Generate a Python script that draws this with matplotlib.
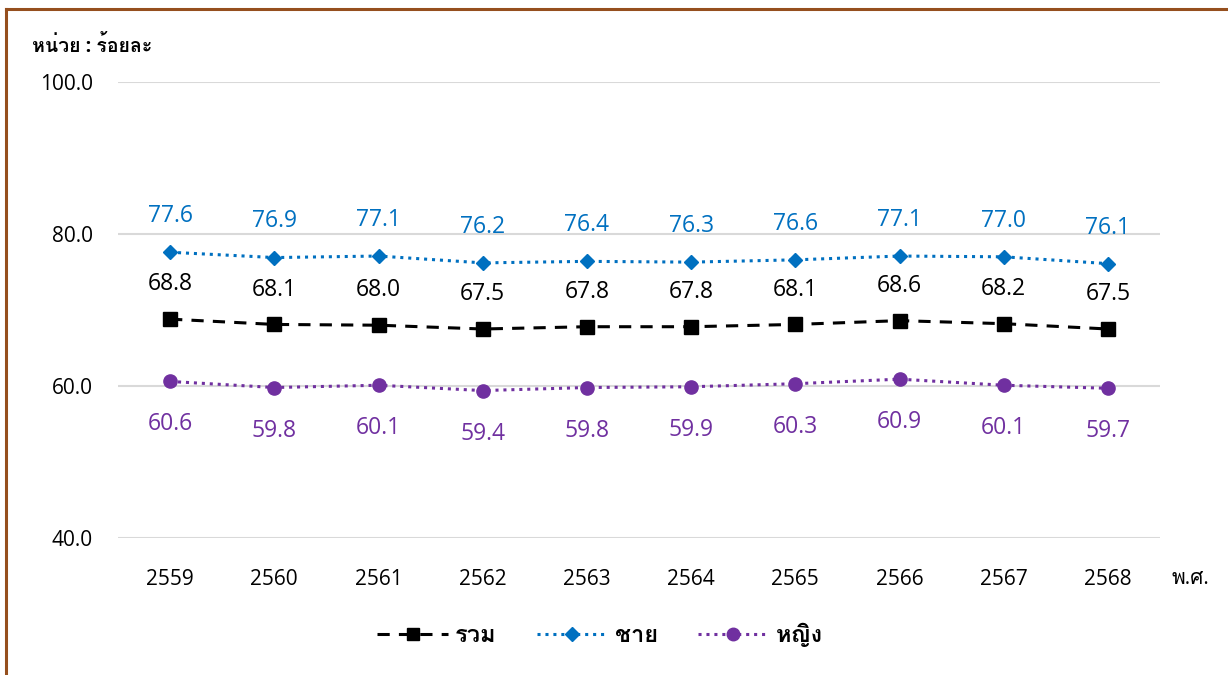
import matplotlib
matplotlib.use("Agg")
import matplotlib.pyplot as plt
from matplotlib import font_manager
from matplotlib.lines import Line2D

years = ["2559", "2560", "2561", "2562", "2563", "2564", "2565", "2566", "2567", "2568"]
total = [68.8, 68.1, 68.0, 67.5, 67.8, 67.8, 68.1, 68.6, 68.2, 67.5]
male = [77.6, 76.9, 77.1, 76.2, 76.4, 76.3, 76.6, 77.1, 77.0, 76.1]
female = [60.6, 59.8, 60.1, 59.4, 59.8, 59.9, 60.3, 60.9, 60.1, 59.7]
series_names = ["รวม", "ชาย", "หญิง"]
y_ticks = [40, 60, 80, 100]


def find_thai_font():
    try:
        from fontTools.ttLib import TTFont
    except ImportError:
        return None
    found = []
    for entry in font_manager.fontManager.ttflist:
        try:
            tt = TTFont(entry.fname, fontNumber=0, lazy=True)
            cmap = tt.getBestCmap()
            if cmap and 0x0E2B in cmap and 0x0E0D in cmap:
                found.append(entry.name)
        except Exception:
            continue
    return found[0] if found else None


thai = find_thai_font()
families = ["Open Sans", thai, "DejaVu Sans"] if thai else ["Open Sans", "DejaVu Sans"]
plt.rcParams["font.family"] = families

BLUE = "#0070C0"
PURPLE = "#7030A0"

fig = plt.figure(figsize=(12.28, 6.75), dpi=100)
ax = fig.add_axes([118 / 1228, 137 / 675, 1042 / 1228, 456 / 675])

x = list(range(len(years)))
ax.plot(x, total, color="black", linestyle=(0, (4, 3)), linewidth=2.2,
        marker="s", markersize=9.5, label=series_names[0], zorder=3)
ax.plot(x, male, color=BLUE, linestyle=(0, (1, 1.6)), linewidth=2.2,
        marker="D", markersize=7.5, label=series_names[1], zorder=3)
ax.plot(x, female, color=PURPLE, linestyle=(0, (1, 1.6)), linewidth=2.2,
        marker="o", markersize=9.5, label=series_names[2], zorder=3)

for xi, v in zip(x, male):
    ax.annotate(f"{v:.1f}", (xi, v), xytext=(0, 26), textcoords="offset points",
                ha="center", va="center", fontsize=16.5, color=BLUE)
for xi, v in zip(x, total):
    ax.annotate(f"{v:.1f}", (xi, v), xytext=(0, 25), textcoords="offset points",
                ha="center", va="center", fontsize=16.5, color="black")
for xi, v in zip(x, female):
    ax.annotate(f"{v:.1f}", (xi, v), xytext=(0, -31), textcoords="offset points",
                ha="center", va="center", fontsize=16.5, color=PURPLE)

ax.set_xlim(-0.5, len(years) - 0.5)
ax.set_ylim(40, 100)
ax.set_yticks(y_ticks)
ax.set_yticklabels([f"{t:.1f}" for t in y_ticks], fontsize=15)
ax.set_xticks(x)
ax.set_xticklabels(years, fontsize=15)
ax.tick_params(axis="y", length=0, pad=18)
ax.tick_params(axis="x", length=0, pad=22)
ax.grid(axis="y", color="#D9D9D9", linewidth=1.5)
ax.set_axisbelow(True)
for spine in ax.spines.values():
    spine.set_visible(False)

fig.text(32 / 1228, 1 - 46 / 675, "หน่วย : ร้อยละ", fontsize=14,
         fontweight="bold", va="center", ha="left")
fig.text(1172 / 1228, 1 - 578 / 675, "พ.ศ.", fontsize=15,
         va="center", ha="left")

handles = [
    Line2D([], [], color="black", linestyle=(0, (4, 3)), linewidth=2.2,
           marker="s", markersize=9),
    Line2D([], [], color=BLUE, linestyle=(0, (1, 1.6)), linewidth=2.2,
           marker="D", markersize=7.5),
    Line2D([], [], color=PURPLE, linestyle=(0, (1, 1.6)), linewidth=2.2,
           marker="o", markersize=9),
]
fig.legend(handles, series_names, loc="center", bbox_to_anchor=(600 / 1228, 1 - 636 / 675),
           ncol=3, frameon=False, handlelength=3.0, handletextpad=0.3,
           columnspacing=1.7, prop={"size": 17, "weight": "bold"})

border = "#954F1E"
fig.add_artist(Line2D([6 / 1228, 6 / 1228], [0, 1 - 9 / 675],
                      transform=fig.transFigure, color=border, linewidth=2.2))
fig.add_artist(Line2D([6 / 1228, 1], [1 - 9 / 675, 1 - 9 / 675],
                      transform=fig.transFigure, color=border, linewidth=2.2))

fig.savefig("out.png", dpi=100)
